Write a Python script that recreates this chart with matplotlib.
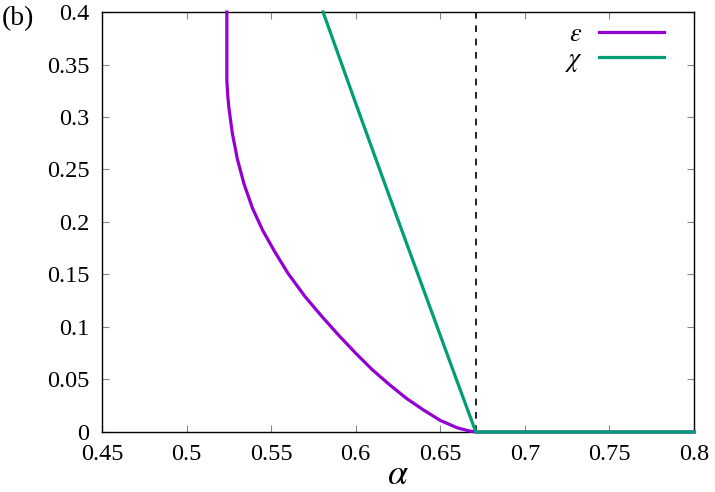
import numpy as np
import matplotlib
matplotlib.use("Agg")
import matplotlib.pyplot as plt

# ---------------------------------------------------------------------------
# Data
# ---------------------------------------------------------------------------
ALPHA_C = 0.671

eps_alpha = [0.5238, 0.5238, 0.5243, 0.525, 0.527, 0.530, 0.534, 0.539,
             0.545, 0.552, 0.560, 0.570, 0.580, 0.590, 0.600, 0.610,
             0.620, 0.630, 0.640, 0.650, 0.660, 0.667, 0.671, 0.8]
eps_val = [0.40, 0.335, 0.321, 0.309, 0.285, 0.260, 0.236, 0.213,
           0.192, 0.172, 0.151, 0.129, 0.110, 0.092, 0.075, 0.059,
           0.045, 0.032, 0.021, 0.011, 0.004, 0.001, 0.0, 0.0]

chi_alpha = [0.5807, 0.600, 0.620, 0.640, 0.660, 0.671, 0.8]
chi_val = [0.40, 0.313, 0.224, 0.136, 0.048, 0.0, 0.0]

xticks = [0.45, 0.5, 0.55, 0.6, 0.65, 0.7, 0.75, 0.8]
yticks = [0, 0.05, 0.1, 0.15, 0.2, 0.25, 0.3, 0.35, 0.4]

# ---------------------------------------------------------------------------
# Chart
# ---------------------------------------------------------------------------
plt.rcParams["font.family"] = "serif"
plt.rcParams["font.serif"] = ["Liberation Serif", "DejaVu Serif"]
plt.rcParams["mathtext.fontset"] = "stix"

fig = plt.figure(figsize=(7.15, 4.92), dpi=100)
ax = fig.add_axes([0.1427, 0.122, 0.8279, 0.8536])

ax.axvline(ALPHA_C, color="black", lw=1.2, ls=(0, (4, 4)), zorder=1)
ax.plot(eps_alpha, eps_val, color="#9400D3", lw=2.3, label=r"$\varepsilon$",
        zorder=3, clip_on=False)
ax.plot(chi_alpha, chi_val, color="#009E73", lw=2.3, label=r"$\chi$",
        zorder=4, clip_on=False)

ax.set_xlim(0.45, 0.8)
ax.set_ylim(0, 0.4)
ax.set_xticks(xticks)
ax.set_xticklabels([f"{t:g}" for t in xticks])
ax.set_yticks(yticks)
ax.set_yticklabels([f"{t:g}" for t in yticks])
ax.tick_params(direction="in", length=5, width=0.8, color="#888888",
               labelsize=17.5, top=True, right=True, pad=9)
for s in ax.spines.values():
    s.set_linewidth(1.0)

ax.set_xlabel(r"$\alpha$", fontsize=26, labelpad=-5)
fig.text(0.003, 0.962, "(b)", fontsize=20, ha="left", va="center")

ax.legend(loc="upper right", frameon=False, markerfirst=False, fontsize=19,
          handlelength=2.5, handletextpad=0.6, labelspacing=0.05,
          borderaxespad=0.0, bbox_to_anchor=(0.968, 1.0))

fig.savefig("out.png", dpi=100)
